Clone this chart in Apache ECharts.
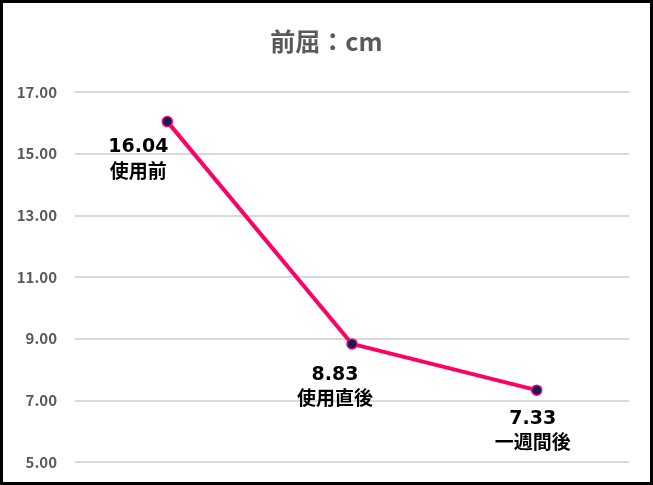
<!DOCTYPE html>
<html><head><meta charset="utf-8">
<script src="https://cdn.jsdelivr.net/npm/echarts@6/dist/echarts.min.js"></script>
<style>html,body{margin:0;padding:0;background:#fff}#c{width:653px;height:485px}</style>
</head><body><div id="c"></div>
<script>
const categories = ['使用前', '使用直後', '一週間後'];
const values = [16.04, 8.83, 7.33];
const yTicks = { min: 5, max: 17, interval: 2 };
const labelOffsets = [[-29, 0], [-17, 5], [-4, 3]];

const chart = echarts.init(document.getElementById('c'), null, { renderer: 'canvas' });
const font = '"Noto Sans CJK JP", "Noto Sans", sans-serif';
const numFont = '"DejaVu Sans", "Noto Sans", sans-serif';
chart.setOption({
  animation: false,
  backgroundColor: '#fff',
  title: {
    text: '前屈：cm', left: 'center', top: 24,
    textStyle: { fontFamily: font, fontSize: 25, fontWeight: 'bold', color: '#595959' }
  },
  grid: { left: 75, right: 24, top: 92, bottom: 23 },
  xAxis: {
    type: 'category', data: categories, boundaryGap: true,
    axisLine: { show: false }, axisTick: { show: false }, axisLabel: { show: false }
  },
  yAxis: {
    type: 'value', min: yTicks.min, max: yTicks.max, interval: yTicks.interval,
    axisLine: { show: false }, axisTick: { show: false },
    axisLabel: { formatter: v => v.toFixed(2), color: '#595959', fontFamily: font, fontSize: 15, fontWeight: 'bold', margin: 18 },
    splitLine: { lineStyle: { color: '#d9d9d9', width: 2 } }
  },
  series: [{
    type: 'line',
    data: values.map((v, i) => ({ value: v, label: { offset: labelOffsets[i] } })),
    lineStyle: { color: '#FF0066', width: 4 },
    itemStyle: { color: '#0B1F5C', borderColor: '#FF0066', borderWidth: 1.5 },
    symbol: 'circle', symbolSize: 10,
    label: {
      show: true, position: 'bottom', distance: 8,
      formatter: p => '{v|' + p.value.toFixed(2) + '}\n{c|' + p.name + '}',
      rich: {
        v: { fontFamily: numFont, fontSize: 19, fontWeight: 'bold', color: '#000', lineHeight: 24, align: 'center' },
        c: { fontFamily: font, fontSize: 19, fontWeight: 'bold', color: '#000', lineHeight: 22, align: 'center' }
      }
    }
  }],
  graphic: [{
    type: 'rect', shape: { x: 1.5, y: 1.5, width: 650, height: 482 },
    style: { fill: 'none', stroke: '#000', lineWidth: 3 }, silent: true
  }]
});
</script></body></html>
